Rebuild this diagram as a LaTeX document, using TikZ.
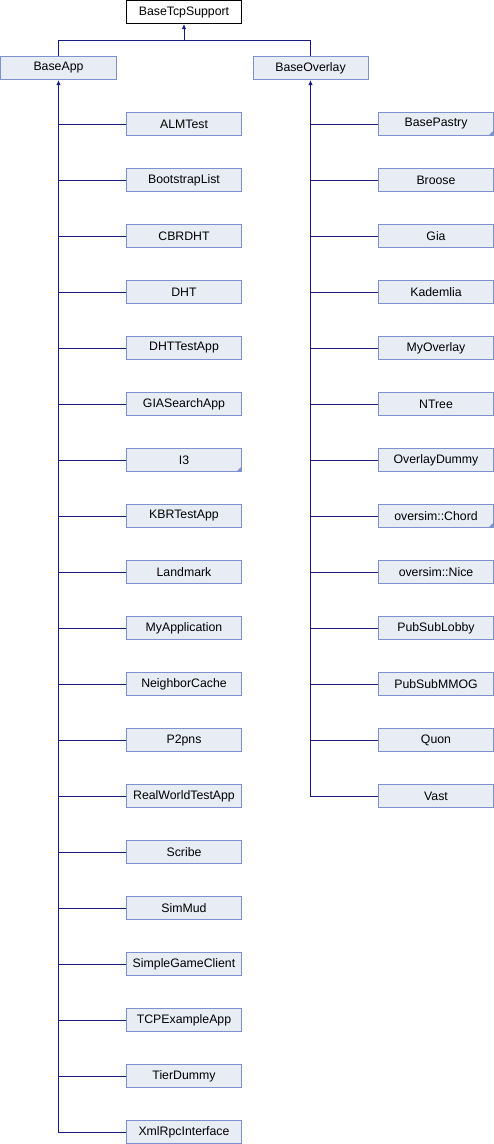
\documentclass[tikz,border=0pt]{standalone}
\usepackage{fontspec}
\setmainfont{Liberation Sans}
\usetikzlibrary{arrows.meta}
\definecolor{boxfill}{RGB}{232,236,244}
\definecolor{boxline}{RGB}{124,146,204}
\definecolor{edge}{RGB}{25,25,130}
\tikzset{
  cls/.style={draw=boxline, fill=boxfill, line width=1bp, minimum width=115bp, minimum height=23bp, inner sep=0pt, font=\fontsize{12.3bp}{14bp}\selectfont},
  rootcls/.style={cls, draw=black, fill=white},
  inh/.style={draw=edge, line width=1bp, {Latex[length=5bp,width=4.5bp]}-},
  plain/.style={draw=edge, line width=1bp},
}
\newcommand{\corner}[1]{\fill[boxline] ([xshift=-0.5bp,yshift=0.5bp]#1.south east) -- ++(-5bp,0) -- ++(5bp,5bp) -- cycle;}
\begin{document}
\begin{tikzpicture}[x=1bp,y=-1bp]
\useasboundingbox (0,0) rectangle (494,1144);
\node[rootcls] (root) at (184,12) {BaseTcpSupport};
\node[cls] (app) at (58.5,68) {BaseApp};
\node[cls] (ovl) at (310.5,68) {BaseOverlay};
\coordinate (j) at (184,40.5);
\draw[inh] (root.south) -- (j);
\draw[plain] (app.north) |- (j) -| (ovl.north);
% left children
\foreach \t [count=\i from 0] in {ALMTest,BootstrapList,CBRDHT,DHT,DHTTestApp,GIASearchApp,I3,KBRTestApp,Landmark,MyApplication,NeighborCache,P2pns,RealWorldTestApp,Scribe,SimMud,SimpleGameClient,TCPExampleApp,TierDummy,XmlRpcInterface}{
  \node[cls] (l\i) at (184,{124+56*\i}) {\t};
}
\foreach \t [count=\i from 0] in {BasePastry,Broose,Gia,Kademlia,MyOverlay,NTree,OverlayDummy,oversim::Chord,oversim::Nice,PubSubLobby,PubSubMMOG,Quon,Vast}{
  \node[cls] (r\i) at (436,{124+56*\i}) {\t};
}
\corner{l6}
\corner{r0}
\corner{r7}
\draw[inh] (app.south) |- (l18.west);
\foreach \i in {0,...,17}{ \draw[plain] (l\i.west) -- (l\i.west -| app.south); }
\draw[inh] (ovl.south) |- (r12.west);
\foreach \i in {0,...,11}{ \draw[plain] (r\i.west) -- (r\i.west -| ovl.south); }
\end{tikzpicture}
\end{document}
